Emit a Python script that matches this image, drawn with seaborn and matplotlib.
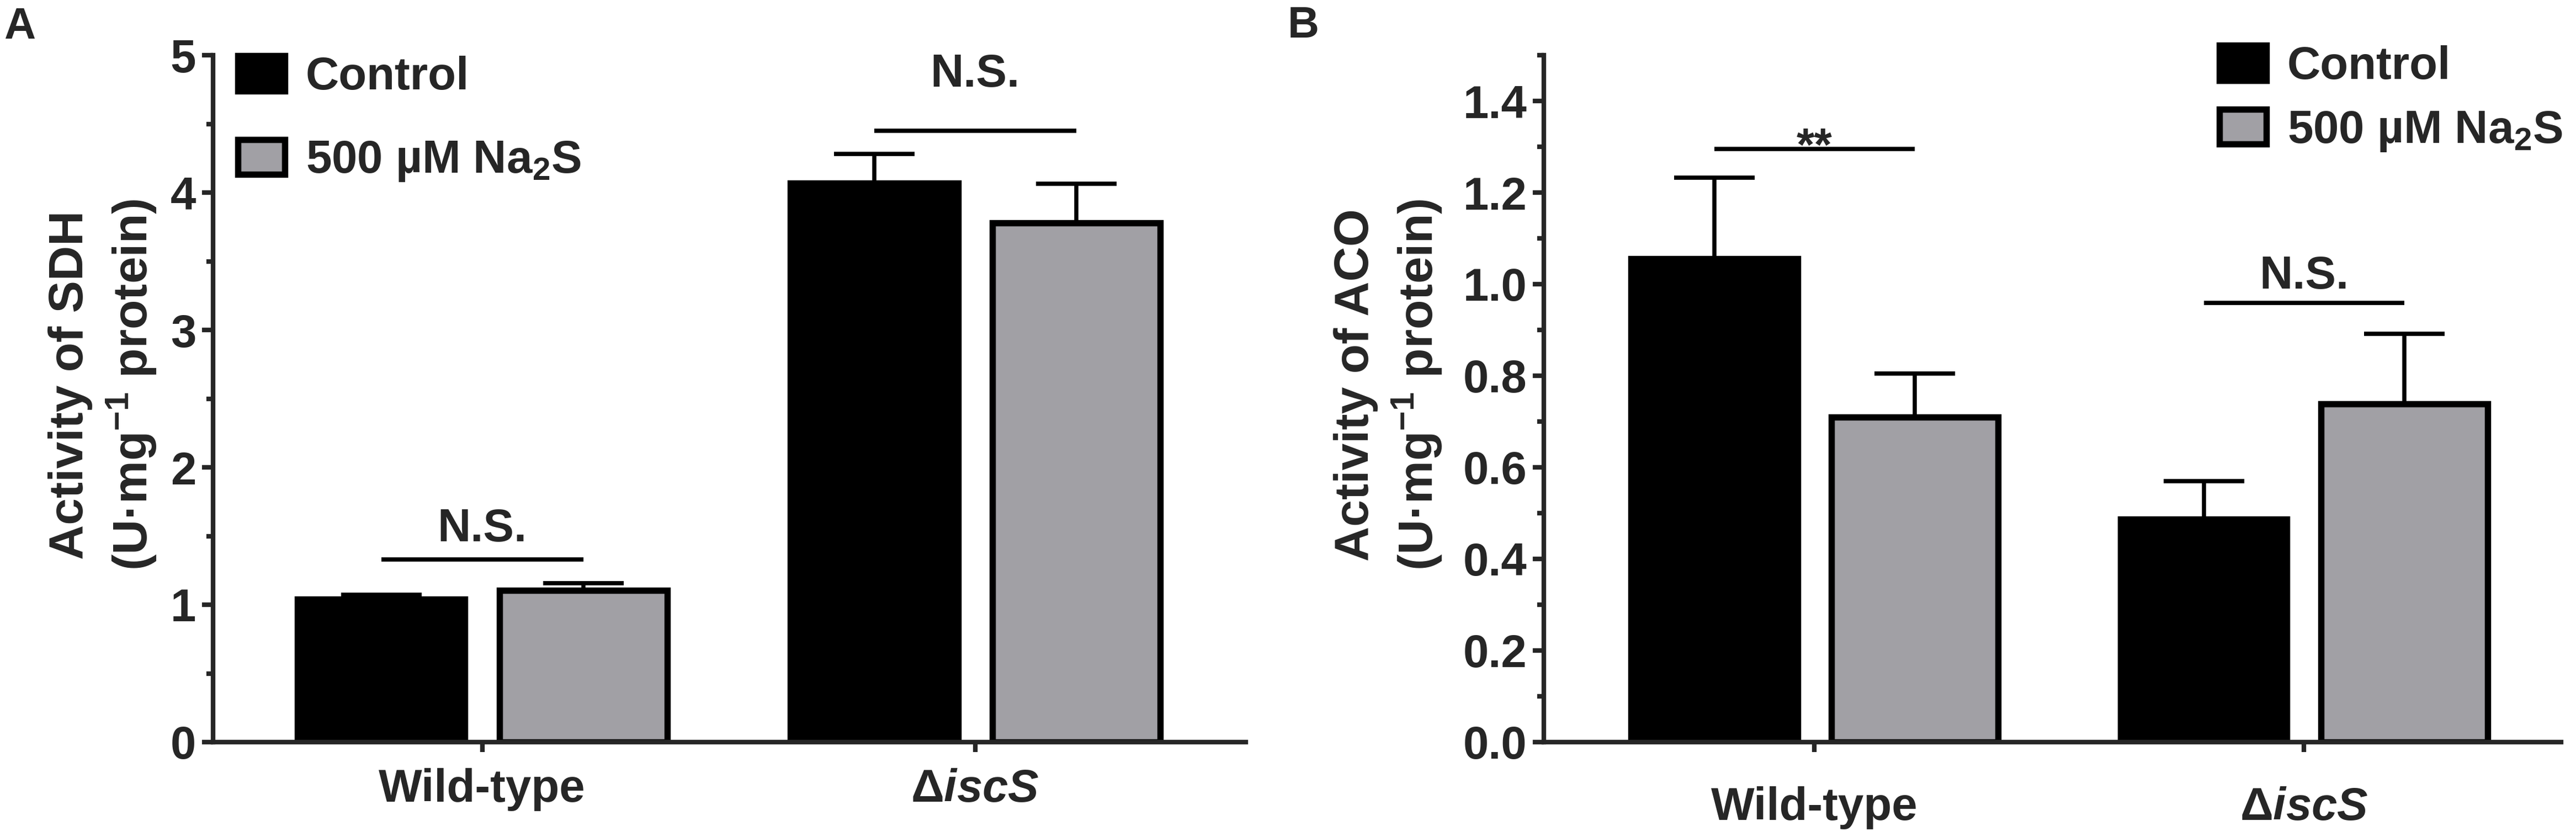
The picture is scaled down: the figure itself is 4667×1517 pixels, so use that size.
import numpy as np
import pandas as pd
import matplotlib
matplotlib.use("Agg")
import matplotlib.pyplot as plt
from matplotlib import font_manager
import seaborn as sns
from matplotlib.ticker import MultipleLocator, FormatStrFormatter

# ---------------- data ----------------
strains = ["Wild-type", "ΔiscS"]
strain_labels = ["Wild-type", "Δ$\\mathit{iscS}$"]
treatments = ["Control", "500 µM Na$_2$S"]

sdh_control = [1.04, 4.07]
sdh_na2s = [1.105, 3.78]
sdh_err_control = [0.032, 0.21]
sdh_err_na2s = [0.05, 0.285]

aco_control = [1.055, 0.487]
aco_na2s = [0.71, 0.738]
aco_err_control = [0.178, 0.083]
aco_err_na2s = [0.095, 0.154]

sdh_sig_labels = ["N.S.", "N.S."]
sdh_sig_line_y = [1.33, 4.45]
sdh_sig_text_y = [1.46, 4.77]
aco_sig_labels = ["**", "N.S."]
aco_sig_line_y = [1.295, 0.959]
aco_sig_text_y = [1.27, 0.99]

# ---------------- style ----------------
sns.set_style("ticks")
names = {f.name for f in font_manager.fontManager.ttflist}
NARROW = "Liberation Sans Narrow" if "Liberation Sans Narrow" in names else "Liberation Sans"
HAVE_NARROW = NARROW == "Liberation Sans Narrow"

plt.rcParams["font.family"] = [NARROW, "Liberation Sans", "DejaVu Sans"]
plt.rcParams["font.weight"] = "bold"
plt.rcParams["axes.labelweight"] = "bold"
plt.rcParams["mathtext.fontset"] = "custom"
plt.rcParams["mathtext.rm"] = NARROW + ":bold"
plt.rcParams["mathtext.it"] = NARROW + ":italic:bold"
plt.rcParams["mathtext.bf"] = NARROW + ":bold"
plt.rcParams["mathtext.default"] = "regular"

BLACK = "#000000"
GREY = "#a1a0a5"
FSN = 22 if HAVE_NARROW else 20     # horizontal texts
FSY = 21                            # rotated y label
W, H = 4667, 1517
DPI = 300

fig = plt.figure(figsize=(W / DPI, H / DPI), dpi=DPI)
fig.patch.set_facecolor("white")

bottom = (H - 1345) / H
height = 1245 / H
axA = fig.add_axes([386 / W, bottom, 1871 / W, height])
axB = fig.add_axes([2797 / W, bottom, (4640 - 2797) / W, height])


def panel(ax, ctrl, na2s, err_c, err_n, ylim, major, minor, fmt, ylabel,
          xlim, xpad, sig_labels, sig_line, sig_text):
    df = pd.DataFrame({
        "strain": strains * 2,
        "treatment": [treatments[0]] * 2 + [treatments[1]] * 2,
        "value": list(ctrl) + list(na2s),
    })
    sns.barplot(data=df, x="strain", y="value", hue="treatment",
                order=strains, hue_order=treatments,
                palette=[BLACK, GREY], width=0.82, gap=0.17,
                edgecolor="black", linewidth=2.75, errorbar=None,
                saturation=1, legend=False, ax=ax)
    errs = [err_c, err_n]
    centers = []
    for cont, e in zip(ax.containers, errs):
        xs = [p.get_x() + p.get_width() / 2 for p in cont.patches]
        hs = [p.get_height() for p in cont.patches]
        centers.append(xs)
        ax.errorbar(xs, hs, yerr=[np.zeros(len(e)), e], fmt="none",
                    ecolor="black", elinewidth=1.8, capsize=17.5,
                    capthick=1.85, zorder=3)
    for i in range(len(strains)):
        x0, x1 = centers[0][i], centers[1][i]
        ax.plot([x0, x1], [sig_line[i]] * 2, color="black", lw=1.85,
                solid_capstyle="butt", zorder=3)
        ax.text((x0 + x1) / 2, sig_text[i], sig_labels[i], ha="center",
                va="baseline", fontsize=FSN, fontweight="bold")
    ax.set_ylim(*ylim)
    ax.set_xlim(*xlim)
    ax.yaxis.set_major_locator(MultipleLocator(major))
    ax.yaxis.set_minor_locator(MultipleLocator(minor))
    ax.yaxis.set_major_formatter(FormatStrFormatter(fmt))
    ax.set_xticks(range(len(strains)))
    ax.set_xticklabels(strain_labels)
    ax.set_xlabel("")
    ax.set_ylabel(ylabel, fontsize=FSY, fontweight="bold", linespacing=1.3,
                  family=["Liberation Sans", "DejaVu Sans"])
    sns.despine(ax=ax)
    for s in ["left", "bottom"]:
        ax.spines[s].set_linewidth(2.0)
    ax.tick_params(axis="y", which="major", length=4.8, width=2.0,
                   labelsize=FSN, pad=2.6)
    ax.tick_params(axis="y", which="minor", length=2.9, width=2.0)
    ax.tick_params(axis="x", which="major", length=4.3, width=2.0,
                   labelsize=FSN, pad=xpad)
    for lab in ax.get_xticklabels() + ax.get_yticklabels():
        lab.set_fontweight("bold")
    ax.set_facecolor("white")


panel(axA, sdh_control, sdh_na2s, sdh_err_control, sdh_err_na2s,
      (0, 5), 1, 0.5, "%d", "Activity of SDH\n(U·mg$^{-1}$ protein)",
      (-0.546, 1.549), 7, sdh_sig_labels, sdh_sig_line_y, sdh_sig_text_y)
panel(axB, aco_control, aco_na2s, aco_err_control, aco_err_na2s,
      (0, 1.5), 0.2, 0.1, "%.1f", "Activity of ACO\n(U·mg$^{-1}$ protein)",
      (-0.553, 1.525), 15, aco_sig_labels, aco_sig_line_y, aco_sig_text_y)

axA.yaxis.set_label_coords(-0.053, 0.52)
axB.yaxis.set_label_coords(-0.098, 0.52)

fs_px = FSN * DPI / 72
leg_kw = dict(frameon=False, handlelength=85 / fs_px,
              handleheight=66 / fs_px, handletextpad=0.45, borderpad=0,
              borderaxespad=0, loc="upper left",
              prop={"weight": "bold", "size": FSN})
axA.legend(handles=axA.containers, labels=treatments, labelspacing=0.88,
           bbox_to_anchor=(431 / W, 1 - 101 / H),
           bbox_transform=fig.transFigure, **leg_kw)
axB.legend(handles=axB.containers, labels=treatments, labelspacing=0.45,
           bbox_to_anchor=(4021 / W, 1 - 82 / H),
           bbox_transform=fig.transFigure, **leg_kw)

fig.text(7 / W, 1 - 12 / H, "A", ha="left", va="top", fontsize=19,
         fontweight="bold", family=["Liberation Sans"])
fig.text(2333 / W, 1 - 10 / H, "B", ha="left", va="top", fontsize=19,
         fontweight="bold", family=["Liberation Sans"])

fig.savefig("out.png", dpi=DPI, facecolor="white")
